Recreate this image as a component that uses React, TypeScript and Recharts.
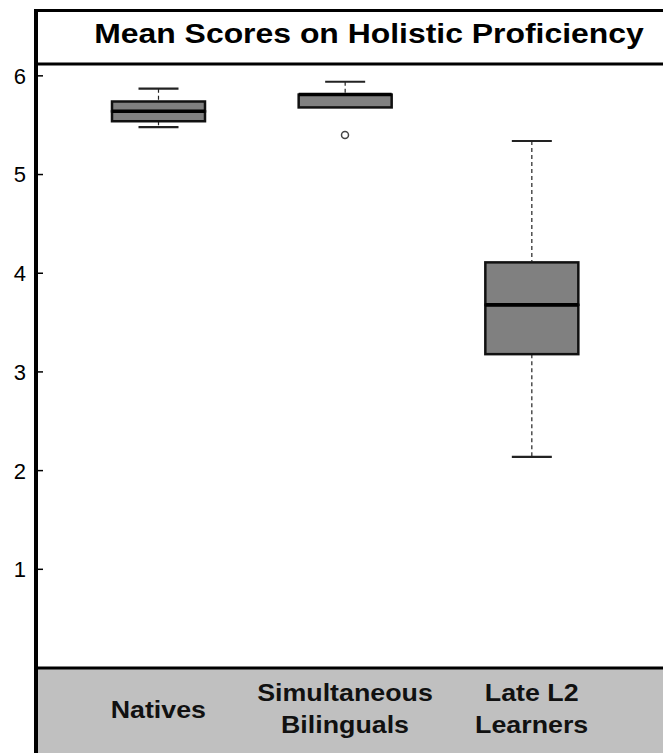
import React from 'react';
import { ComposedChart, Bar, Scatter, XAxis, YAxis } from 'recharts';

const categories = ['Natives', 'Simultaneous\nBilinguals', 'Late L2\nLearners'];
const mins = [5.48, 5.68, 2.14];
const q1s = [5.54, 5.68, 3.18];
const medians = [5.64, 5.81, 3.68];
const q3s = [5.74, 5.81, 4.11];
const maxs = [5.87, 5.94, 5.34];
const outliers: (number | null)[] = [null, 5.4, null];
const yTicks = [1, 2, 3, 4, 5, 6];
const title = 'Mean Scores on Holistic Proficiency';

const data = categories.map((name, i) => ({
  name,
  base: mins[i],
  lowWhisker: q1s[i] - mins[i],
  lowBox: medians[i] - q1s[i],
  highBox: q3s[i] - medians[i],
  highWhisker: maxs[i] - q3s[i],
  outlier: outliers[i],
}));

const FONT = '"Liberation Sans", Arial, Helvetica, sans-serif';
const WHISKER = '#222';
const BOX_FILL = '#808080';
const BOX_STROKE = '#111';

const Empty = () => <g />;

const LowWhisker = (p: any) => {
  const { x, y, width, height } = p;
  if (!height || height < 0.5) return <g />;
  const cx = x + width / 2;
  return (
    <g>
      <line x1={cx} x2={cx} y1={y} y2={y + height} stroke={WHISKER} strokeWidth={1.2} strokeDasharray="4 3" />
      <line x1={cx - 20} x2={cx + 20} y1={y + height} y2={y + height} stroke={WHISKER} strokeWidth={2.2} />
    </g>
  );
};

const HighWhisker = (p: any) => {
  const { x, y, width, height } = p;
  if (!height || height < 0.5) return <g />;
  const cx = x + width / 2;
  return (
    <g>
      <line x1={cx} x2={cx} y1={y} y2={y + height} stroke={WHISKER} strokeWidth={1.2} strokeDasharray="4 3" />
      <line x1={cx - 20} x2={cx + 20} y1={y} y2={y} stroke={WHISKER} strokeWidth={2.2} />
    </g>
  );
};

const LowBox = (p: any) => {
  const { x, y, width, height } = p;
  if (!height || height < 0.2) return <g />;
  return (
    <g>
      <rect x={x} y={y} width={width} height={height} fill={BOX_FILL} stroke={BOX_STROKE} strokeWidth={2.5} />
      <line x1={x} x2={x + width} y1={y} y2={y} stroke="#000" strokeWidth={3.5} />
    </g>
  );
};

const HighBox = (p: any) => {
  const { x, y, width, height } = p;
  if (!height || height < 0.2) return <g />;
  return (
    <g>
      <rect x={x} y={y} width={width} height={height} fill={BOX_FILL} stroke={BOX_STROKE} strokeWidth={2.5} />
      <line x1={x} x2={x + width} y1={y + height} y2={y + height} stroke="#000" strokeWidth={3.5} />
    </g>
  );
};

const OutlierDot = (p: any) => {
  const { cx, cy, payload } = p;
  if (payload == null || payload.outlier == null || !isFinite(cy)) return <g />;
  return <circle cx={cx} cy={cy} r={3.5} fill="#fff" stroke="#444" strokeWidth={1.5} />;
};

const YTick = (p: any) => {
  const { x, y, payload } = p;
  return (
    <g>
      <line x1={x + 10} x2={x + 17} y1={y} y2={y} stroke="#000" strokeWidth={1.5} />
      <text x={x} y={y} dy="0.36em" textAnchor="end" fontSize={22} fontFamily={FONT} fill="#000">
        {payload.value}
      </text>
    </g>
  );
};

const XTick = (p: any) => {
  const { x, y, payload } = p;
  const lines = String(payload.value).split('\n');
  const offsets = lines.length === 1 ? [50] : [33, 65];
  return (
    <g>
      {lines.map((ln, i) => (
        <text
          key={i}
          transform={`translate(${x},${y + offsets[i]}) scale(1.14,1)`}
          x={0}
          y={0}
          textAnchor="middle"
          fontSize={23.5}
          fontWeight="bold"
          fontFamily={FONT}
          fill="#111"
        >
          {ln}
        </text>
      ))}
    </g>
  );
};

export default function App() {
  return (
    <div
      style={{
        position: 'absolute',
        left: 0,
        top: 0,
        width: 663,
        height: 753,
        overflow: 'hidden',
        background: '#fff',
        fontFamily: FONT,
      }}
    >
      <div style={{ position: 'absolute', left: 36, top: 668, width: 627, height: 85, background: '#c0c0c0' }} />
      <div
        style={{
          position: 'absolute',
          left: 34,
          top: 9,
          width: 700,
          height: 744,
          borderTop: '3px solid #000',
          borderLeft: '4px solid #000',
          boxSizing: 'border-box',
        }}
      />
      <div
        style={{
          position: 'absolute',
          left: 369,
          top: 20,
          transform: 'translateX(-50%) scaleX(1.16)',
          whiteSpace: 'nowrap',
          fontSize: 27.5,
          fontWeight: 'bold',
          lineHeight: '27.5px',
          color: '#000',
          fontFamily: FONT,
        }}
      >
        {title}
      </div>
      <div style={{ position: 'absolute', left: 0, top: 0 }}>
        <ComposedChart width={663} height={753} data={data} margin={{ top: 8, right: 0, bottom: 0, left: 0 }}>
          <XAxis
            xAxisId="top"
            orientation="top"
            dataKey="name"
            height={56}
            tick={false}
            tickLine={false}
            axisLine={{ stroke: '#000', strokeWidth: 3 }}
            padding={{ left: 29, right: 38 }}
          />
          <XAxis
            dataKey="name"
            height={85}
            tickLine={false}
            tickSize={0}
            tickMargin={0}
            interval={0}
            tick={XTick}
            axisLine={{ stroke: '#000', strokeWidth: 3 }}
            padding={{ left: 29, right: 38 }}
          />
          <YAxis
            type="number"
            domain={[0, 6.12]}
            ticks={yTicks}
            width={36}
            allowDataOverflow
            tickLine={false}
            tickSize={0}
            tickMargin={10}
            tick={YTick}
            axisLine={{ stroke: '#000', strokeWidth: 4 }}
          />
          <Bar dataKey="base" stackId="box" barSize={93} shape={Empty} isAnimationActive={false} />
          <Bar dataKey="lowWhisker" stackId="box" barSize={93} shape={LowWhisker} isAnimationActive={false} />
          <Bar dataKey="lowBox" stackId="box" barSize={93} shape={LowBox} isAnimationActive={false} />
          <Bar dataKey="highBox" stackId="box" barSize={93} shape={HighBox} isAnimationActive={false} />
          <Bar dataKey="highWhisker" stackId="box" barSize={93} shape={HighWhisker} isAnimationActive={false} />
          <Scatter dataKey="outlier" shape={OutlierDot} isAnimationActive={false} />
        </ComposedChart>
      </div>
    </div>
  );
}
